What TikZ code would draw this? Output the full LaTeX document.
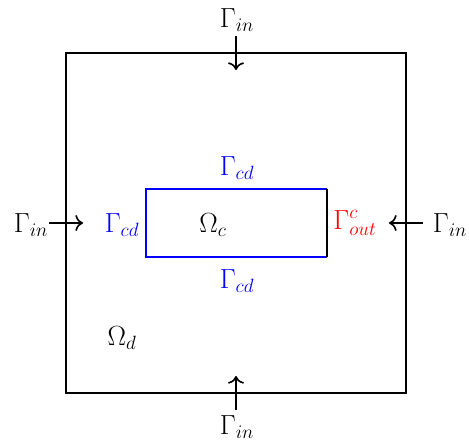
\documentclass[tikz,border=0pt]{standalone}
\usetikzlibrary{arrows.meta}
\begin{document}
\begin{tikzpicture}[x=0.75pt,y=-0.75pt,
  lab/.style={inner sep=0pt, font=\fontsize{20}{24}\selectfont},
  bnd/.style={line width=1.2pt},
  arr/.style={line width=1.2pt,-{To[scale=1.35]}}]
\useasboundingbox (0,0) rectangle (469,442);
% outer domain
\draw[bnd] (66,53) rectangle (406,393);
% inner rectangle
\coordinate (A) at (146,189);
\coordinate (B) at (327,189);
\coordinate (C) at (327,257);
\coordinate (D) at (146,257);
\draw[bnd,blue] (C) -- (D) -- (A) -- (B);
\draw[bnd] (B) -- (C);
% labels
\node[lab] (tin) at (237,20) {$\Gamma_{in}$};
\node[lab] (bin) at (237,427) {$\Gamma_{in}$};
\node[lab] (lin) at (31,225) {$\Gamma_{in}$};
\node[lab] (rin) at (450,225) {$\Gamma_{in}$};
\node[lab,blue] (tcd) at (237,168) {$\Gamma_{cd}$};
\node[lab,blue] (bcd) at (237,281) {$\Gamma_{cd}$};
\node[lab,blue] (lcd) at (122,225) {$\Gamma_{cd}$};
\node[lab,red] (out) at (355,223) {$\Gamma^{c}_{out}$};
\node[lab] (oc) at (213,225) {$\Omega_c$};
\node[lab] (od) at (122,338) {$\Omega_d$};
% arrows
\coordinate (t1) at (236,36); \coordinate (t2) at (236,70);
\coordinate (b1) at (236,410); \coordinate (b2) at (236,376);
\coordinate (l1) at (49,223); \coordinate (l2) at (83,223);
\coordinate (r1) at (423,223); \coordinate (r2) at (389,223);
\draw[arr] (t1) -- (t2);
\draw[arr] (b1) -- (b2);
\draw[arr] (l1) -- (l2);
\draw[arr] (r1) -- (r2);
\end{tikzpicture}
\end{document}
